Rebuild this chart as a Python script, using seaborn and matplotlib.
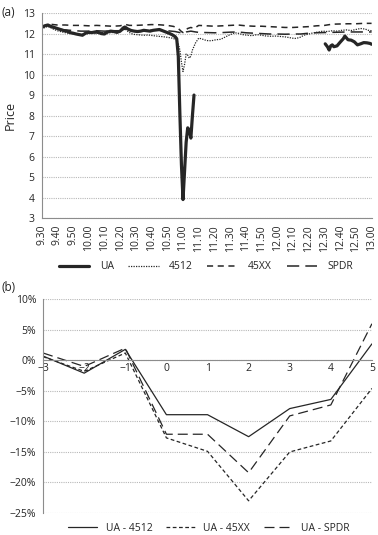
import numpy as np
import pandas as pd
import matplotlib
matplotlib.use("Agg")
import matplotlib.pyplot as plt
import seaborn as sns

# === DATA: panel (a), minutes after 9.30 and price ===
ua_t1 = [0, 2, 4, 6, 8, 10, 12, 14, 16, 18, 20, 22, 24, 26, 28, 30, 32, 34, 36, 38, 40,
         42, 44, 46, 48, 50, 52, 53, 55, 57, 59, 61, 63, 65, 67, 69, 71, 73, 75, 77, 79,
         81, 83, 85, 86, 87, 88, 89, 90, 91, 92, 93, 94, 95, 96, 97]
ua_p1 = [12.30, 12.38, 12.42, 12.35, 12.30, 12.25, 12.20, 12.15, 12.12, 12.05, 12.02,
         11.98, 11.95, 11.92, 12.02, 12.06, 12.05, 12.08, 12.06, 12.00, 11.98, 12.08,
         12.12, 12.10, 12.06, 12.12, 12.28, 12.32, 12.22, 12.15, 12.12, 12.10, 12.12,
         12.16, 12.14, 12.12, 12.16, 12.18, 12.20, 12.14, 12.08, 12.02, 11.95, 11.85,
         11.75, 10.90, 8.10, 5.60, 3.90, 5.30, 6.70, 7.40, 7.30, 6.90, 8.00, 9.00]
ua_t2 = [180.5, 182, 183, 184, 185, 186, 188, 190, 192, 193, 195, 197, 199, 201, 203,
         205, 207, 209, 210]
ua_p2 = [11.50, 11.35, 11.20, 11.40, 11.45, 11.36, 11.40, 11.58, 11.75, 11.88, 11.70,
         11.68, 11.60, 11.45, 11.50, 11.56, 11.55, 11.52, 11.48]

s4512_t = [0, 2, 4, 6, 8, 10, 13, 16, 19, 22, 25, 28, 31, 34, 37, 40, 43, 46, 49, 52, 53,
           55, 57, 59, 62, 65, 68, 71, 74, 77, 80, 83, 86, 87, 88, 89, 90, 91, 92, 93, 94,
           95, 96, 98, 100, 102, 105, 108, 111, 114, 117, 120, 123, 125, 128, 131, 134,
           137, 140, 143, 146, 149, 152, 155, 158, 161, 164, 167, 170, 173, 176, 179, 182,
           185, 188, 191, 194, 197, 200, 203, 206, 208, 210]
s4512_p = [12.20, 12.30, 12.35, 12.28, 12.20, 12.14, 12.08, 12.03, 12.00, 11.98, 11.95,
           12.00, 12.02, 12.00, 12.03, 12.05, 12.04, 12.06, 12.05, 12.18, 12.24, 12.10,
           12.00, 11.96, 11.94, 11.92, 11.93, 11.90, 11.87, 11.85, 11.82, 11.78, 11.70,
           11.50, 11.20, 10.60, 10.15, 10.50, 11.00, 10.95, 10.80, 10.90, 11.20, 11.55,
           11.78, 11.74, 11.66, 11.65, 11.70, 11.72, 11.84, 11.95, 12.04, 12.02, 11.95,
           11.92, 11.90, 11.95, 11.92, 11.88, 11.87, 11.88, 11.86, 11.84, 11.80, 11.76,
           11.80, 11.92, 11.98, 12.04, 12.08, 12.12, 12.10, 12.14, 12.12, 12.16, 12.18,
           12.15, 12.20, 12.25, 12.22, 12.16, 12.14]

s45xx_t = [0, 3, 5, 10, 15, 20, 25, 30, 35, 40, 45, 50, 53, 56, 60, 65, 70, 75, 80, 84,
           87, 89, 90, 91, 93, 95, 97, 100, 105, 110, 115, 120, 125, 130, 135, 140, 145,
           150, 155, 160, 165, 170, 175, 180, 185, 190, 195, 200, 205, 210]
s45xx_p = [12.30, 12.42, 12.46, 12.42, 12.42, 12.40, 12.40, 12.38, 12.40, 12.38, 12.36,
           12.38, 12.45, 12.40, 12.40, 12.42, 12.44, 12.43, 12.40, 12.35, 12.25, 12.10,
           12.05, 12.12, 12.25, 12.30, 12.25, 12.40, 12.38, 12.36, 12.38, 12.40, 12.42,
           12.38, 12.36, 12.36, 12.34, 12.32, 12.30, 12.30, 12.32, 12.34, 12.38, 12.40,
           12.46, 12.47, 12.48, 12.48, 12.50, 12.50]

spdr_t = [0, 3, 6, 10, 15, 20, 25, 30, 35, 40, 45, 50, 53, 56, 60, 65, 70, 75, 80, 85,
          88, 90, 92, 95, 98, 100, 105, 110, 115, 120, 125, 130, 135, 140, 145, 150, 155,
          160, 165, 170, 175, 180, 185, 190, 195, 200, 205, 210]
spdr_p = [12.32, 12.40, 12.32, 12.22, 12.18, 12.15, 12.12, 12.12, 12.14, 12.12, 12.14,
          12.14, 12.22, 12.16, 12.12, 12.14, 12.16, 12.16, 12.14, 12.10, 12.05, 12.00,
          12.08, 12.12, 12.08, 12.06, 12.05, 12.04, 12.05, 12.07, 12.08, 12.04, 12.02,
          12.00, 11.98, 11.98, 11.97, 11.98, 11.98, 12.02, 12.04, 12.05, 12.06, 12.07,
          12.08, 12.08, 12.08, 12.08]

time_labels = ["9.30", "9.40", "9.50", "10.00", "10.10", "10.20", "10.30", "10.40",
               "10.50", "11.00", "11.10", "11.20", "11.30", "11.40", "11.50", "12.00",
               "12.10", "12.20", "12.30", "12.40", "12.50", "13.00"]

# === DATA: panel (b), percent ===
days = [-3, -2, -1, 0, 1, 2, 3, 4, 5]
ua_4512 = [0.7, -2.1, 1.8, -8.9, -8.9, -12.5, -7.9, -6.4, 2.7]
ua_45xx = [0.6, -1.8, 1.2, -12.7, -14.9, -23.0, -15.0, -13.2, -4.6]
ua_spdr = [1.2, -1.0, 2.0, -12.1, -12.1, -18.4, -9.1, -7.3, 6.0]

# === STYLE ===
sns.set_theme(style="white")
plt.rcParams["font.family"] = ["Open Sans", "DejaVu Sans"]
plt.rcParams["axes.unicode_minus"] = True
INK = "#262626"
GRID = "#b8b8b8"
SPINE = "#8c8c8c"
FS = 7.5

fig = plt.figure(figsize=(3.78, 5.35), dpi=100)
ax1 = fig.add_axes([0.110, 0.5925, 0.873, 0.383])
ax2 = fig.add_axes([0.114, 0.0411, 0.870, 0.3995])

# === PANEL (a) ===
sns.lineplot(x=s4512_t, y=s4512_p, ax=ax1, color=INK, lw=0.9,
             linestyle=(0, (1, 1)), label="4512")
sns.lineplot(x=s45xx_t, y=s45xx_p, ax=ax1, color=INK, lw=1.1,
             linestyle=(0, (4, 3)), label="45XX")
sns.lineplot(x=spdr_t, y=spdr_p, ax=ax1, color=INK, lw=1.1,
             linestyle=(0, (8, 4)), label="SPDR")
sns.lineplot(x=ua_t1, y=ua_p1, ax=ax1, color=INK, lw=2.3, label="UA")
sns.lineplot(x=ua_t2, y=ua_p2, ax=ax1, color=INK, lw=2.3)

ax1.set_xlim(0, 210)
ax1.set_ylim(3, 13)
ax1.set_xticks(np.arange(0, 211, 10))
ax1.set_xticklabels(time_labels, rotation=90)
ax1.set_yticks(range(3, 14))
ax1.yaxis.grid(True, color=GRID, lw=0.8, linestyle=(0, (1, 1)))
ax1.set_axisbelow(True)
ax1.set_ylabel("Price", fontsize=9, labelpad=4)
ax1.set_xlabel("")
ax1.legend_.remove()

# === PANEL (b) ===
sns.lineplot(x=days, y=ua_4512, ax=ax2, color=INK, lw=0.9, label="UA - 4512")
sns.lineplot(x=days, y=ua_45xx, ax=ax2, color=INK, lw=0.9,
             linestyle=(0, (3, 2)), label="UA - 45XX")
sns.lineplot(x=days, y=ua_spdr, ax=ax2, color=INK, lw=0.9,
             linestyle=(0, (8, 4)), label="UA - SPDR")
ax2.set_xlim(-3, 5)
ax2.set_ylim(-25, 10)
ax2.set_xticks(days)
ax2.set_xticklabels([str(d).replace("-", "\u2212") for d in days])
ax2.set_yticks(range(-25, 11, 5))
ax2.set_yticklabels([f"{v}%".replace("-", "\u2212") for v in range(-25, 11, 5)])
ax2.yaxis.grid(True, color=GRID, lw=0.8, linestyle=(0, (1, 1)))
ax2.set_axisbelow(True)
ax2.spines["bottom"].set_position(("data", 0))
ax2.legend_.remove()

for ax in (ax1, ax2):
    sns.despine(ax=ax)
    for s in ("left", "bottom"):
        ax.spines[s].set_color(SPINE)
        ax.spines[s].set_linewidth(0.8)
    ax.tick_params(axis="both", labelsize=FS, colors=INK, length=3, width=0.7,
                   color=SPINE, pad=2)
ax2.tick_params(axis="x", direction="inout", length=4, pad=0)

fig.text(0.003, 0.988, "(a)", fontsize=8.5, color=INK, va="top")
fig.text(0.003, 0.474, "(b)", fontsize=8.5, color=INK, va="top")

# legends
h1, l1 = ax1.get_legend_handles_labels()
order = [l1.index(n) for n in ["UA", "4512", "45XX", "SPDR"]]
fig.legend([h1[i] for i in order], [l1[i] for i in order], loc="center",
           bbox_to_anchor=(0.545, 0.501), ncol=4, frameon=False, fontsize=FS,
           handlelength=2.9, columnspacing=1.4, handletextpad=1.0)
h2, l2 = ax2.get_legend_handles_labels()
fig.legend(h2, l2, loc="center", bbox_to_anchor=(0.553, 0.013), ncol=3,
           frameon=False, fontsize=FS, handlelength=2.8, columnspacing=1.3,
           handletextpad=0.8)

fig.savefig("out.png", dpi=100)
